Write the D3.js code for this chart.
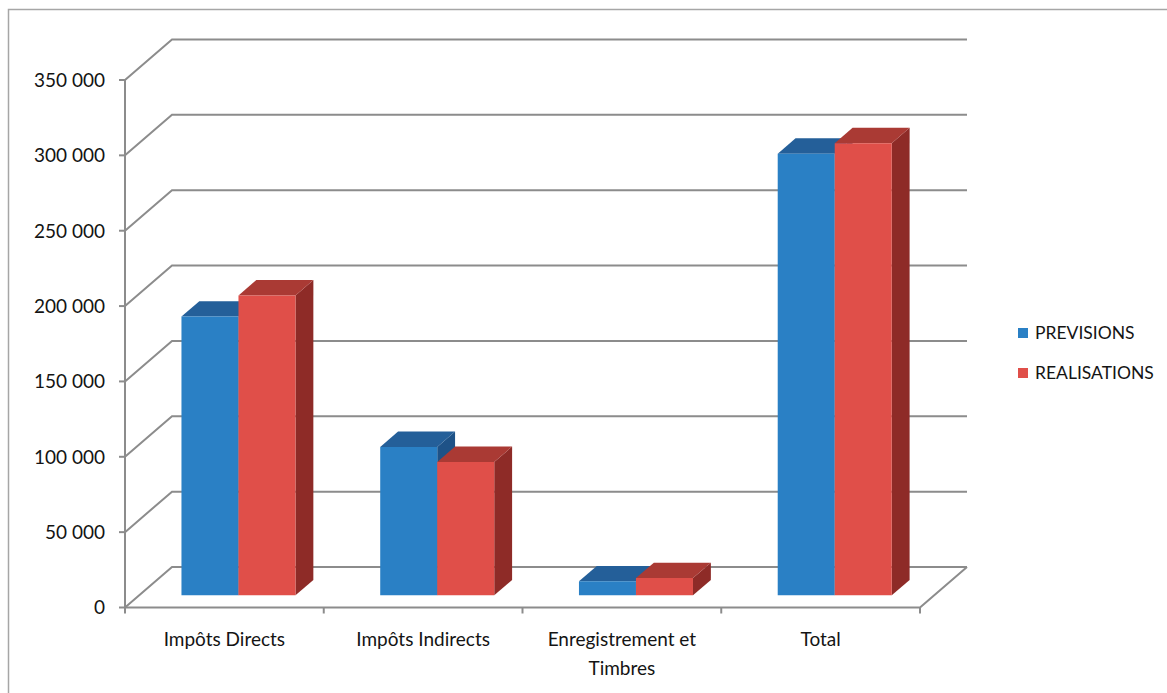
<!DOCTYPE html>
<html>
<head>
<meta charset="utf-8">
<script src="https://cdn.jsdelivr.net/npm/d3@7"></script>
<style>
  html, body { margin: 0; padding: 0; background: #fff; }
  svg { display: block; }
  text { font-family: Lato, "Open Sans", sans-serif; fill: #141414; }
</style>
</head>
<body>
<svg id="chart" width="1167" height="693"></svg>
<script>
// Recettes fiscales : prévisions et réalisations
const categories = ["Impôts Directs", "Impôts Indirects", "Enregistrement et\nTimbres", "Total"];
const series = ["PREVISIONS", "REALISATIONS"];
const previsions = [185000, 98500, 9300, 293000];
const realisations = [199000, 88500, 11500, 300000];
const yTicks = [0, 50000, 100000, 150000, 200000, 250000, 300000, 350000];
const yTickLabels = ["0", "50 000", "100 000", "150 000", "200 000", "250 000", "300 000", "350 000"];

const valuesBySeries = { PREVISIONS: previsions, REALISATIONS: realisations };

const svg = d3.select("#chart");

// Outer frame
svg.append("rect")
  .attr("x", 8.5).attr("y", 9.5).attr("width", 1175).attr("height", 700)
  .attr("fill", "none").attr("stroke", "#a6a6a6").attr("stroke-width", 1.5);

// Plot geometry (oblique projection: front floor edge + depth offset)
const x0 = 125, x1 = 920;          // front floor edge
const floorY = 607.5;              // front floor line
const DX = 47, DY = 40.5;          // full depth offset of the back wall
const plotH = 527.5;               // height for the max tick value

const x = d3.scaleBand().domain(categories).range([x0, x1]).paddingInner(0).paddingOuter(0);
const xSub = d3.scaleBand().domain(series).range([0, x.bandwidth()]).paddingInner(0).paddingOuter(0.743);
const h = d3.scaleLinear().domain([0, 350000]).range([0, plotH]);

// project (px, value, depth fraction) into screen coords
const P = (px, v, f) => [px + f * DX, floorY - f * DY - h(v)];

const gridColor = "#8c8c8c";
const grid = svg.append("g").attr("stroke", gridColor).attr("stroke-width", 2).attr("fill", "none");

// Back wall gridlines and left wall diagonals
yTicks.forEach(t => {
  const a = P(x0, t, 0), b = P(x0, t, 1), c = P(x1, t, 1);
  grid.append("path").attr("d", d3.line()([a, b, c]));
  // tick mark on the value axis
  grid.append("line").attr("x1", x0 - 6).attr("x2", x0).attr("y1", a[1]).attr("y2", a[1]);
});

// Value axis line
grid.append("line")
  .attr("x1", x0).attr("x2", x0)
  .attr("y1", P(x0, 350000, 0)[1]).attr("y2", floorY);

// Floor: front edge and right diagonal
grid.append("path").attr("d", d3.line()([P(x0, 0, 0), P(x1, 0, 0), P(x1, 0, 1)]));

// Category tick marks
const catEdges = categories.map(c => x(c)).concat([x1]);
catEdges.forEach(px => {
  grid.append("line").attr("x1", px).attr("x2", px).attr("y1", floorY).attr("y2", floorY + 6);
});

// Value labels
svg.append("g").selectAll("text").data(yTicks).join("text")
  .attr("x", 105)
  .attr("y", d => P(x0, d, 0)[1])
  .attr("dy", "0.36em")
  .attr("text-anchor", "end")
  .attr("font-size", 19)
  .text((d, i) => yTickLabels[i]);

// Category labels
const catLabels = svg.append("g");
categories.forEach(c => {
  const lines = c.split("\n");
  const t = catLabels.append("text")
    .attr("x", x(c) + x.bandwidth() / 2)
    .attr("y", 646)
    .attr("text-anchor", "middle")
    .attr("font-size", 19);
  lines.forEach((ln, i) => {
    t.append("tspan").attr("x", x(c) + x.bandwidth() / 2).attr("dy", i === 0 ? 0 : 29).text(ln);
  });
});

// Bars
const colors = {
  PREVISIONS: { front: "#2a80c5", top: "#245f99", side: "#1e5287" },
  REALISATIONS: { front: "#e04f49", top: "#aa3a34", side: "#8e2b27" }
};
const f0 = 0.3, f1 = 0.68;
const bars = svg.append("g");
categories.forEach((c, i) => {
  series.forEach(s => {
    const v = valuesBySeries[s][i];
    const left = x(c) + xSub(s), right = left + xSub.bandwidth();
    const col = colors[s];
    const poly = pts => "M" + pts.map(p => p.join(",")).join("L") + "Z";
    // right side face
    bars.append("path").attr("fill", col.side)
      .attr("d", poly([P(right, 0, f0), P(right, 0, f1), P(right, v, f1), P(right, v, f0)]));
    // top face
    bars.append("path").attr("fill", col.top)
      .attr("d", poly([P(left, v, f0), P(left, v, f1), P(right, v, f1), P(right, v, f0)]));
    // front face
    bars.append("path").attr("fill", col.front)
      .attr("d", poly([P(left, 0, f0), P(right, 0, f0), P(right, v, f0), P(left, v, f0)]));
  });
});

// Legend
const legend = svg.append("g");
series.forEach((s, i) => {
  const y = 333 + i * 40;
  legend.append("rect").attr("x", 1018).attr("y", y - 5).attr("width", 10).attr("height", 10)
    .attr("fill", colors[s].front);
  legend.append("text").attr("x", 1035).attr("y", y).attr("dy", "0.36em")
    .attr("font-size", 17.5).text(s);
});
</script>
</body>
</html>
